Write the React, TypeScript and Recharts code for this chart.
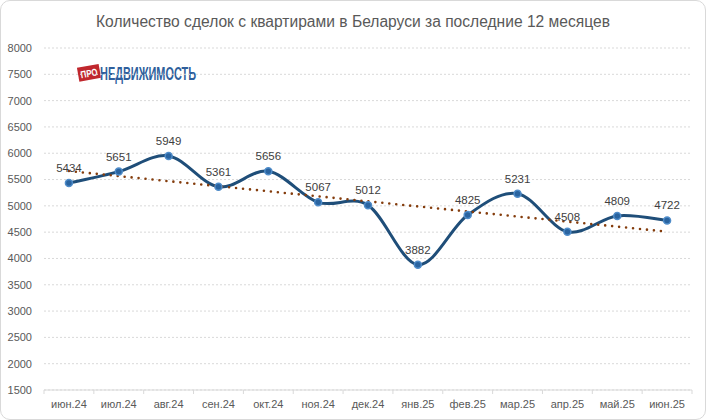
import { LineChart, Line, XAxis, YAxis, CartesianGrid, LabelList } from 'recharts';

const months = [
  'июн.24', 'июл.24', 'авг.24', 'сен.24', 'окт.24', 'ноя.24', 'дек.24',
  'янв.25', 'фев.25', 'мар.25', 'апр.25', 'май.25', 'июн.25',
];
const deals = [5434, 5651, 5949, 5361, 5656, 5067, 5012, 3882, 4825, 5231, 4508, 4809, 4722];
const yTicks = [1500, 2000, 2500, 3000, 3500, 4000, 4500, 5000, 5500, 6000, 6500, 7000, 7500, 8000];

const TITLE = 'Количество сделок с квартирами в Беларуси за последние 12 месяцев';
const FONT = '"Liberation Sans", Arial, sans-serif';

// least-squares trend, like Excel's linear trendline
function linearTrend(values: number[]): number[] {
  const n = values.length;
  const mx = (n - 1) / 2;
  const my = values.reduce((s, v) => s + v, 0) / n;
  let num = 0;
  let den = 0;
  values.forEach((v, i) => {
    num += (i - mx) * (v - my);
    den += (i - mx) * (i - mx);
  });
  const k = num / den;
  return values.map((_, i) => my + k * (i - mx));
}

const trend = linearTrend(deals);
const data = months.map((m, i) => ({ month: m, deals: deals[i], trend: trend[i] }));

// Excel-style smoothed line (catmull-rom through the points)
function excelSmooth(context: any) {
  let pts: number[][] = [];
  return {
    areaStart() {},
    areaEnd() {},
    lineStart() {
      pts = [];
    },
    lineEnd() {
      const n = pts.length;
      if (!n) return;
      context.moveTo(pts[0][0], pts[0][1]);
      for (let i = 0; i < n - 1; i++) {
        const p0 = pts[Math.max(0, i - 1)];
        const p1 = pts[i];
        const p2 = pts[i + 1];
        const p3 = pts[Math.min(n - 1, i + 2)];
        context.bezierCurveTo(
          p1[0] + (p2[0] - p0[0]) / 6,
          p1[1] + (p2[1] - p0[1]) / 6,
          p2[0] - (p3[0] - p1[0]) / 6,
          p2[1] - (p3[1] - p1[1]) / 6,
          p2[0],
          p2[1],
        );
      }
    },
    point(x: number, y: number) {
      pts.push([+x, +y]);
    },
  };
}

function MonthTick(props: any) {
  const { x, y, payload, index } = props;
  const half = payload && payload.offset ? payload.offset : 648 / 26;
  return (
    <g>
      <line x1={x - half} x2={x - half} y1={y} y2={y + 4} stroke="#d9d9d9" />
      {index === months.length - 1 && (
        <line x1={x + half} x2={x + half} y1={y} y2={y + 4} stroke="#d9d9d9" />
      )}
      <text x={x} y={y + 18} textAnchor="middle" fontSize={11} fill="#595959" fontFamily={FONT}>
        {payload.value}
      </text>
    </g>
  );
}

function Logo() {
  return (
    <svg width={200} height={28} style={{ position: 'absolute', left: 74, top: 58 }}>
      <g transform="rotate(-10 13 14)">
        <rect x={3} y={7} width={22} height={14} fill="#c0272d" />
        <text
          x={14}
          y={18}
          textAnchor="middle"
          fontSize={10}
          fontWeight={700}
          fill="#fff"
          fontFamily={FONT}
          textLength={17}
          lengthAdjust="spacingAndGlyphs"
        >
          ПРО
        </text>
      </g>
      <text
        x={25}
        y={21}
        fontSize={19}
        fontWeight={700}
        fill="#2f5f9c"
        fontFamily={FONT}
        textLength={96}
        lengthAdjust="spacingAndGlyphs"
      >
        НЕДВИЖИМОСТЬ
      </text>
    </svg>
  );
}

export default function App() {
  return (
    <div
      style={{
        position: 'absolute',
        left: 0,
        top: 0,
        width: 706,
        height: 420,
        boxSizing: 'border-box',
        border: '1px solid #d9d9d9',
        borderRadius: 10,
        background: '#fff',
        fontFamily: FONT,
        overflow: 'hidden',
      }}
    >
      <div
        style={{
          position: 'absolute',
          left: 0,
          width: 704,
          top: 12,
          textAlign: 'center',
          fontSize: 15.6,
          color: '#595959',
        }}
      >
        {TITLE}
      </div>
      <Logo />
      <div style={{ position: 'absolute', left: -1, top: -1 }}>
        <LineChart width={706} height={420} data={data} margin={{ top: 48, right: 14, bottom: 0, left: 0 }}>
          <CartesianGrid stroke="#d9d9d9" strokeDasharray="2 2" vertical={false} />
          <XAxis
            dataKey="month"
            scale="band"
            stroke="#d9d9d9"
            tickLine={false}
            tickSize={0}
            tickMargin={0}
            height={30}
            interval={0}
            tick={<MonthTick />}
          />
          <YAxis
            domain={[1500, 8000]}
            ticks={yTicks}
            interval={0}
            axisLine={false}
            tickLine={false}
            tickSize={0}
            tickMargin={12}
            width={44}
            tick={{ fontSize: 11, fill: '#595959', fontFamily: FONT }}
          />
          <Line
            dataKey="deals"
            type={excelSmooth as any}
            stroke="#1f4e79"
            strokeWidth={3}
            dot={{ r: 3.5, fill: '#2a64a0', stroke: '#4f8cc9', strokeWidth: 1.5 }}
            activeDot={false}
            isAnimationActive={false}
          >
            <LabelList
              dataKey="deals"
              position="top"
              offset={11}
              fontSize={11.5}
              fill="#404040"
              fontFamily={FONT}
            />
          </Line>
          <Line
            dataKey="trend"
            type="linear"
            stroke="#843c0c"
            strokeWidth={2.6}
            strokeDasharray="0 7"
            strokeLinecap="round"
            dot={false}
            activeDot={false}
            isAnimationActive={false}
          />
        </LineChart>
      </div>
    </div>
  );
}
